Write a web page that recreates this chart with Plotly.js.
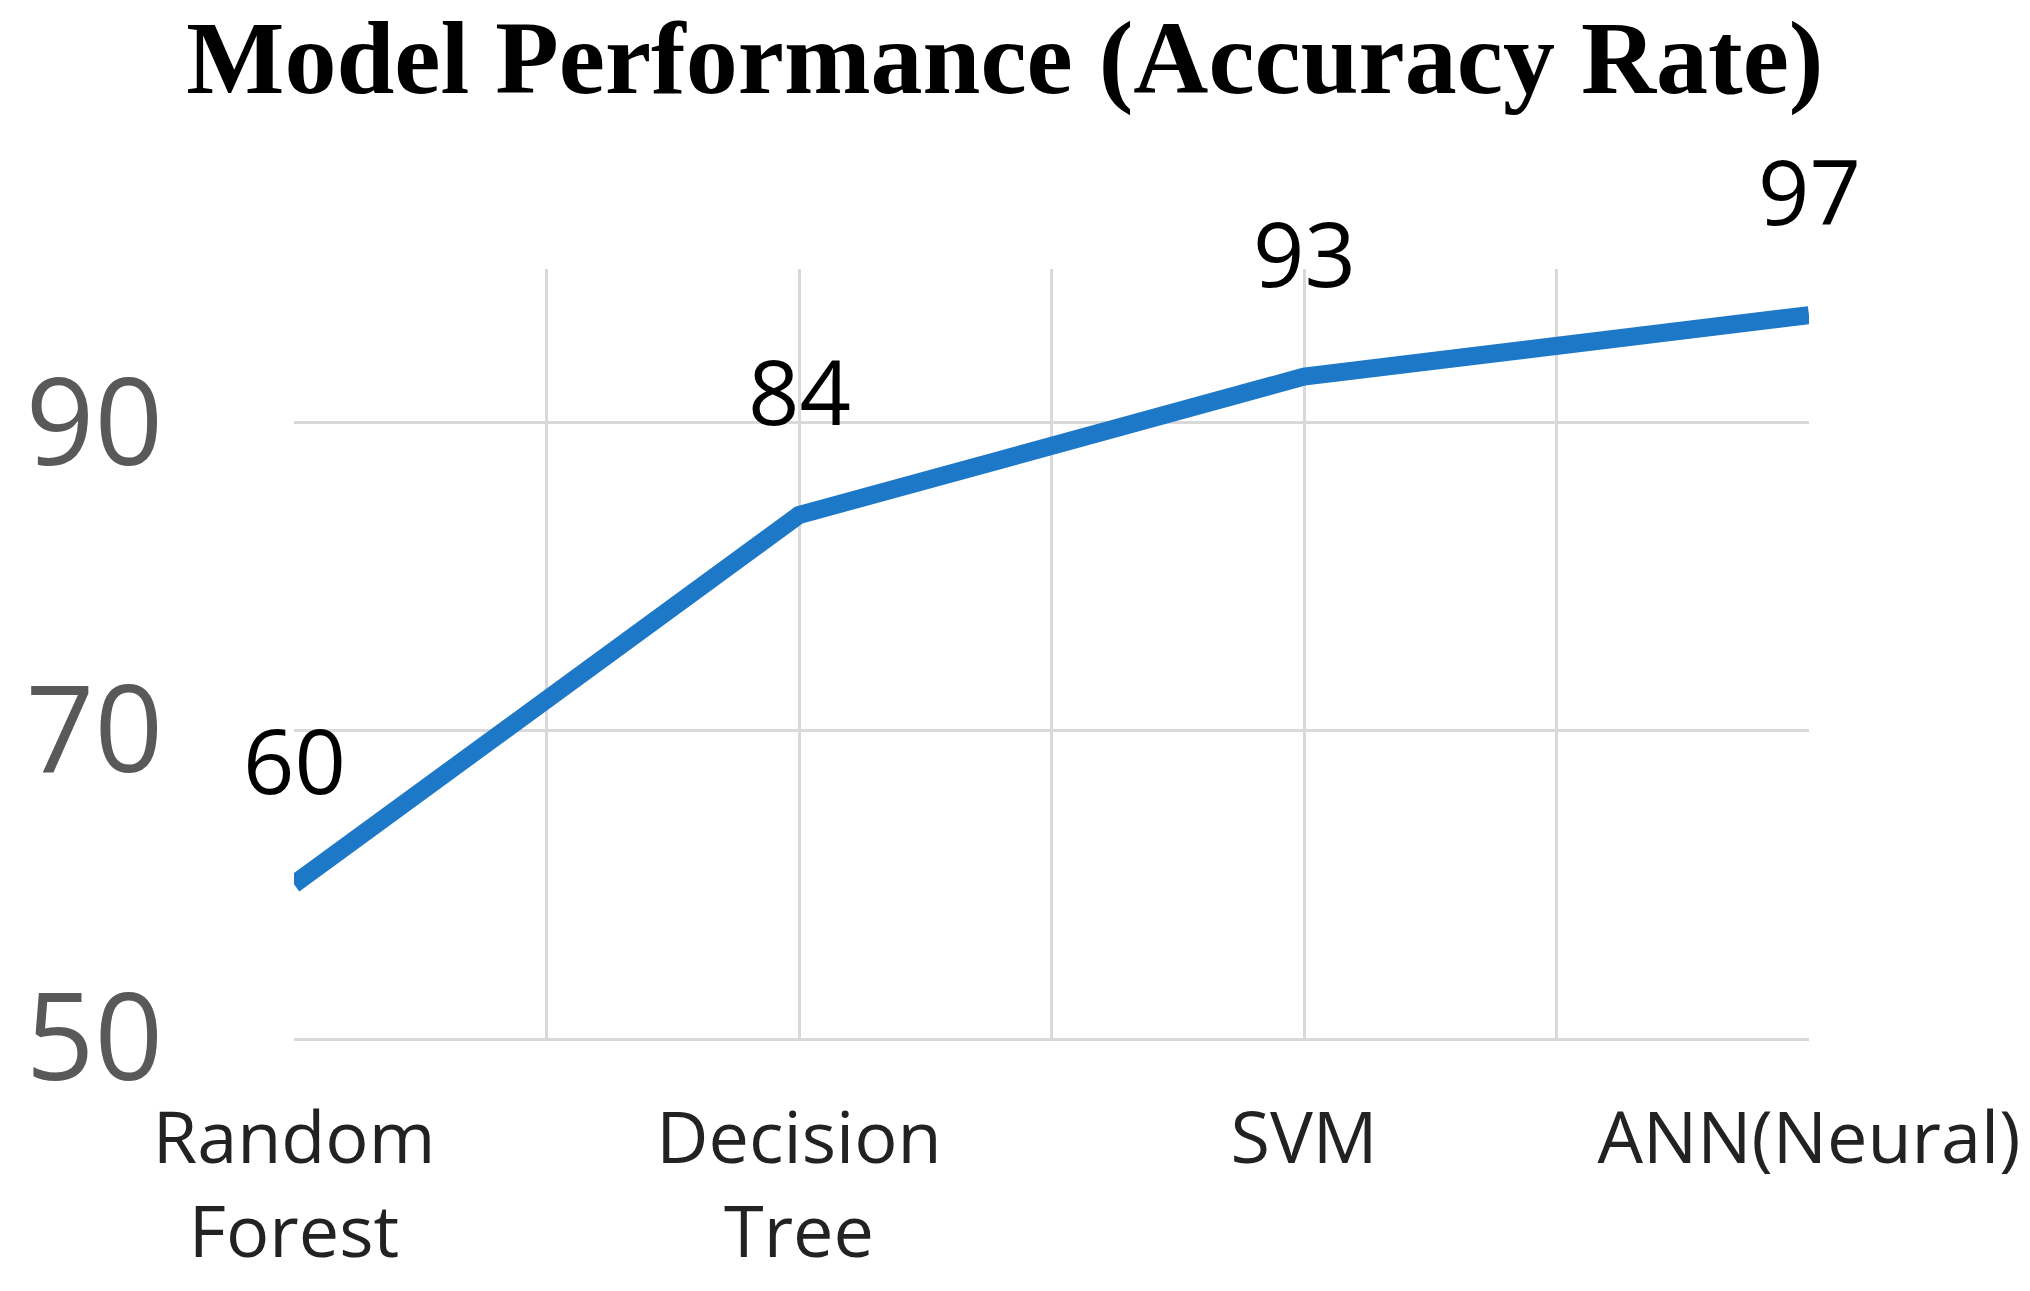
<!DOCTYPE html>
<html>
<head>
<meta charset="utf-8">
<script src="https://cdn.plot.ly/plotly-3.0.1.min.js"></script>
<style>html,body{margin:0;padding:0;background:#fff;}#chart{width:2030px;height:1291px;}</style>
</head>
<body>
<div id="chart"></div>
<script>
const categories = ["Random<br>Forest", "Decision<br>Tree", "SVM", "ANN(Neural)"];
const accuracy = [60, 84, 93, 97];
const yTickValues = [50, 70, 90];
const titleText = "Model Performance (Accuracy Rate)";

const xIdx = categories.map((_, i) => i);
// grid positions: each category plus midpoints between them
const xGridVals = [];
const xGridText = [];
for (let i = 0; i < categories.length; i++) {
  xGridVals.push(i); xGridText.push(categories[i]);
  if (i < categories.length - 1) { xGridVals.push(i + 0.5); xGridText.push(""); }
}

const trace = {
  x: xIdx,
  y: accuracy,
  type: "scatter",
  mode: "lines",
  line: {color: "#1E78C8", width: 18},
  hoverinfo: "skip"
};

const annotations = accuracy.map((v, i) => ({
  x: i, y: v, xref: "x", yref: "y",
  text: String(v), showarrow: false,
  yshift: 125, yanchor: "middle", xanchor: "center",
  font: {family: "Open Sans", size: 90, color: "#000000"}
}));

const layout = {
  width: 2030, height: 1291,
  paper_bgcolor: "#ffffff", plot_bgcolor: "#ffffff",
  margin: {l: 294, r: 221, t: 269, b: 253},
  showlegend: false,
  title: {
    text: titleText,
    x: 0.495, xanchor: "center",
    y: 0.956, yanchor: "middle", yref: "container",
    font: {family: "Liberation Serif", size: 104, color: "#000000", weight: "bold"}
  },
  xaxis: {
    type: "linear", range: [0, 3], fixedrange: true,
    tickvals: xGridVals, ticktext: xGridText,
    showgrid: true, gridcolor: "#d9d9d9", gridwidth: 3,
    zeroline: false, showline: true, linecolor: "#d9d9d9", linewidth: 3,
    ticks: "", ticklabelstandoff: 36,
    tickfont: {family: "Open Sans", size: 72, color: "#222222"}
  },
  yaxis: {
    range: [50, 100], fixedrange: true,
    tickvals: yTickValues,
    showgrid: true, gridcolor: "#d9d9d9", gridwidth: 3,
    zeroline: false, showline: false,
    ticks: "", ticklabelstandoff: 130,
    tickfont: {family: "Open Sans", size: 120, color: "#595959"}
  },
  annotations: annotations
};

Plotly.newPlot("chart", [trace], layout, {displayModeBar: false, staticPlot: true});
</script>
</body>
</html>
